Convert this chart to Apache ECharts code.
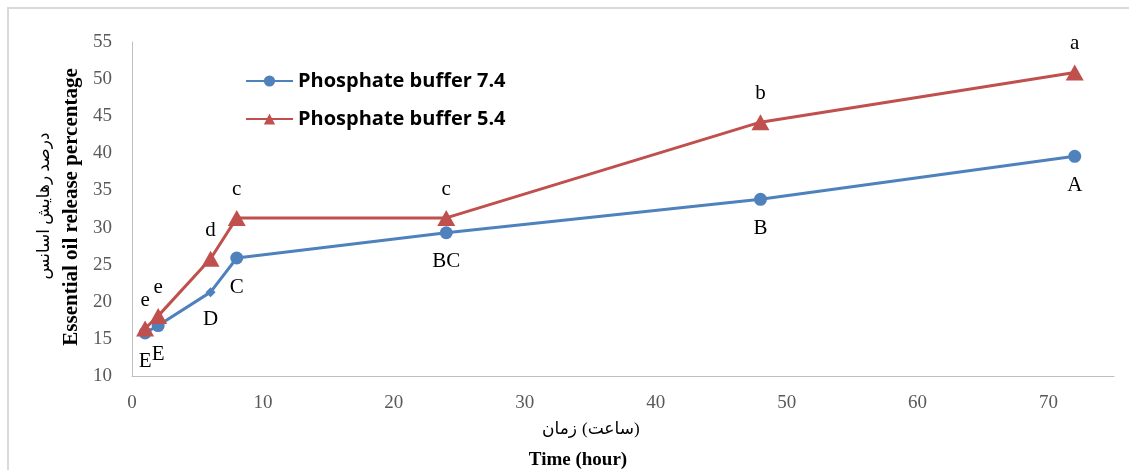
<!DOCTYPE html>
<html>
<head>
<meta charset="utf-8">
<script src="https://cdn.jsdelivr.net/npm/echarts@6/dist/echarts.min.js"></script>
<style>
  html, body { margin: 0; padding: 0; background: #fff; }
  #chart { width: 1129px; height: 470px; }
</style>
</head>
<body>
<div id="chart"></div>
<script>
// time points (hour)
const hours = [1, 2, 6, 8, 24, 48, 72];
// release %
const buffer74 = [15.8, 16.8, 21.3, 25.9, 29.3, 33.8, 39.6];
const buffer54 = [16.4, 18.1, 25.8, 31.3, 31.3, 44.2, 50.9];
// letters of the significance groups
const letters74 = ["E", "E", "D", "C", "BC", "B", "A"];
const letters54 = ["e", "e", "d", "c", "c", "b", "a"];
const seriesNames = ["Phosphate buffer 7.4", "Phosphate buffer 5.4"];

const serif = "'Liberation Serif', 'DejaVu Sans'";
const blue = "#4F81BD";
const red = "#C0504D";

const myChart = echarts.init(document.getElementById("chart"));

const makeData = (values, letters, special) =>
  values.map((v, i) => {
    const item = { value: [hours[i], v], letter: letters[i] };
    if (special && special[i]) Object.assign(item, special[i]);
    return item;
  });

const titleText = (x, y, text, font, align, rotation) => ({
  type: "text",
  x: x, y: y, rotation: rotation || 0,
  style: {
    text: text, font: font, fill: "#000",
    align: align || "center", verticalAlign: "middle"
  }
});

const option = {
  animation: false,
  graphic: [
    {
      type: "rect",
      silent: true,
      shape: { x: 8, y: 8, width: 1300, height: 700 },
      style: { fill: "none", stroke: "#D9D9D9", lineWidth: 2 }
    },
    titleText(72, 207, "Essential oil release percentage", "bold 21px " + serif, "center", Math.PI / 2),
    titleText(45, 206, "درصد رهایش اسانس", "17px " + serif, "center", Math.PI / 2),
    // the two words are placed left to right, as in the source
    titleText(577, 430, "زمان", "17px " + serif, "right"),
    titleText(582, 430, "(ساعت)", "17px " + serif, "left"),
    titleText(578, 460, "Time (hour)", "bold 19px " + serif)
  ],
  legend: {
    orient: "vertical",
    left: 245,
    top: 71,
    padding: 0,
    itemWidth: 47,
    itemHeight: 14,
    itemGap: 18,
    data: seriesNames,
    textStyle: {
      fontFamily: "'Open Sans', 'Liberation Sans'",
      fontWeight: "bold",
      fontSize: 20,
      color: "#000"
    }
  },
  grid: {
    left: 132,
    right: 15,
    top: 42,
    bottom: 94,
    containLabel: false,
    outerBoundsMode: "none"
  },
  xAxis: {
    type: "value",
    min: 0,
    max: 75,
    interval: 10,
    axisLine: { show: true, lineStyle: { color: "#BFBFBF", width: 1 } },
    axisTick: { show: false },
    splitLine: { show: false },
    axisLabel: {
      showMaxLabel: false,
      margin: 18,
      color: "#595959",
      fontSize: 19,
      fontFamily: serif
    }
  },
  yAxis: {
    type: "value",
    min: 10,
    max: 55,
    interval: 5,
    axisLine: { show: true, lineStyle: { color: "#BFBFBF", width: 1 } },
    axisTick: { show: false },
    splitLine: { show: false },
    axisLabel: {
      margin: 20,
      color: "#595959",
      fontSize: 19,
      fontFamily: serif
    }
  },
  series: [
    {
      name: seriesNames[0],
      type: "line",
      data: makeData(buffer74, letters74, { 2: { symbol: "diamond", symbolSize: 10 } }),
      symbol: "circle",
      symbolSize: 13,
      lineStyle: { color: blue, width: 3 },
      itemStyle: { color: blue },
      label: {
        show: true,
        position: "bottom",
        distance: 12,
        formatter: (p) => p.data.letter,
        fontFamily: serif,
        fontSize: 21,
        color: "#000"
      },
      z: 2
    },
    {
      name: seriesNames[1],
      type: "line",
      data: makeData(buffer54, letters54),
      symbol: "triangle",
      symbolSize: [18, 16],
      lineStyle: { color: red, width: 3 },
      itemStyle: { color: red },
      label: {
        show: true,
        position: "top",
        distance: 10,
        formatter: (p) => p.data.letter,
        fontFamily: serif,
        fontSize: 21,
        color: "#000"
      },
      z: 3
    }
  ]
};

option && myChart.setOption(option);
</script>
</body>
</html>
